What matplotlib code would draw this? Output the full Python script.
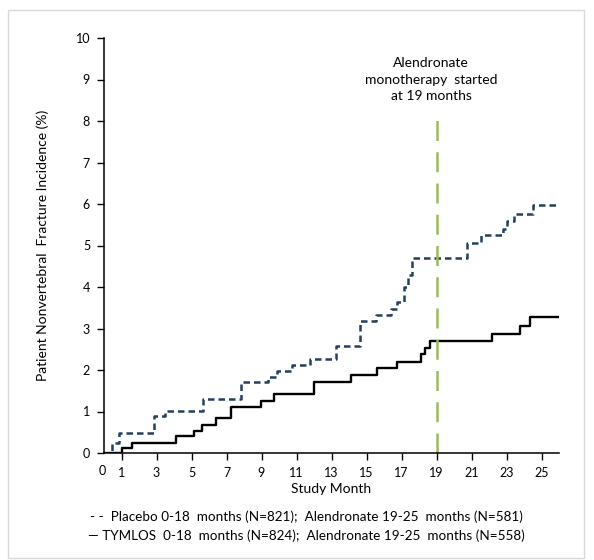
import matplotlib
matplotlib.use("Agg")
import matplotlib.pyplot as plt
from matplotlib.patches import Rectangle

plt.rcParams['font.family'] = ['Lato', 'DejaVu Sans']

# step change times (months) and cumulative incidence (%) after each change
placebo_month = [0, 0.48, 0.86, 2.86, 3.49, 5.66, 7.85, 9.37, 9.9, 10.76, 11.78,
                 13.28, 14.65, 15.52, 16.38, 16.76, 17.14, 17.38, 17.62,
                 20.76, 21.52, 22.82, 23.05, 23.43, 24.53, 26]
placebo_pct = [0, 0.24, 0.49, 0.88, 1.02, 1.29, 1.70, 1.84, 1.98, 2.13, 2.27,
               2.58, 3.18, 3.32, 3.48, 3.64, 4.0, 4.3, 4.70,
               5.07, 5.25, 5.40, 5.58, 5.77, 5.98, 5.98]

tymlos_month = [0, 1.01, 1.62, 4.13, 5.14, 5.62, 6.42, 7.28, 8.99, 9.71, 12.02,
                14.14, 15.62, 16.76, 18.1, 18.34, 18.63, 22.19, 23.77, 24.34, 26]
tymlos_pct = [0, 0.12, 0.25, 0.40, 0.53, 0.68, 0.84, 1.12, 1.26, 1.42, 1.72,
              1.88, 2.05, 2.20, 2.38, 2.54, 2.70, 2.86, 3.06, 3.28, 3.28]

x_ticks = list(range(1, 26, 2))
y_ticks = list(range(0, 11))
switch_month = 19

legend_lines = [
    "- -  Placebo 0-18  months (N=821);  Alendronate 19-25  months (N=581)",
    "\u2014 TYMLOS  0-18  months (N=824);  Alendronate 19-25  months (N=558)",
]

fig = plt.figure(figsize=(5.94, 5.60), dpi=100)
fig.patches.append(Rectangle((8 / 594, 2 / 560), 576 / 594, 548 / 560,
                             transform=fig.transFigure, fill=False,
                             edgecolor='#d9d9d9', linewidth=1))
ax = fig.add_axes([104 / 594, 107 / 560, 455 / 594, 415 / 560])

ax.step(placebo_month, placebo_pct, where='post', color='#243f60',
        linewidth=1.8, dashes=(2.6, 1.6))
ax.step(tymlos_month, tymlos_pct, where='post', color='black', linewidth=1.7)
ax.plot([switch_month, switch_month], [0, 8.2], color='#9bbb59',
        linewidth=1.8, dashes=(8, 4.5))

ax.text(18.7, 9.0, "Alendronate\nmonotherapy  started\nat 19 months",
        ha='center', va='center', fontsize=10, linespacing=1.45)

ax.set_xlim(0, 26)
ax.set_ylim(0, 10)
ax.set_xticks(x_ticks)
ax.set_yticks(y_ticks)
ax.tick_params(axis='both', labelsize=9, length=5, width=1, direction='out')
ax.tick_params(axis='x', pad=5)
ax.tick_params(axis='y', pad=5)
ax.text(-0.1, -0.3, "0", ha='center', va='top', fontsize=9)
for side in ('top', 'right'):
    ax.spines[side].set_visible(False)
for side in ('left', 'bottom'):
    ax.spines[side].set_linewidth(1.1)

ax.set_xlabel("Study Month", fontsize=10, labelpad=3)
ax.set_ylabel("Patient Nonvertebral  Fracture Incidence (%)", fontsize=10)
ax.yaxis.set_label_coords(-0.121, 0.5)

fig.text(306 / 594, 1 - 517 / 560, legend_lines[0], ha='center', va='center',
         fontsize=9.7)
fig.text(306 / 594, 1 - 536 / 560, legend_lines[1], ha='center', va='center',
         fontsize=9.7)

fig.savefig("out.png", dpi=100)
